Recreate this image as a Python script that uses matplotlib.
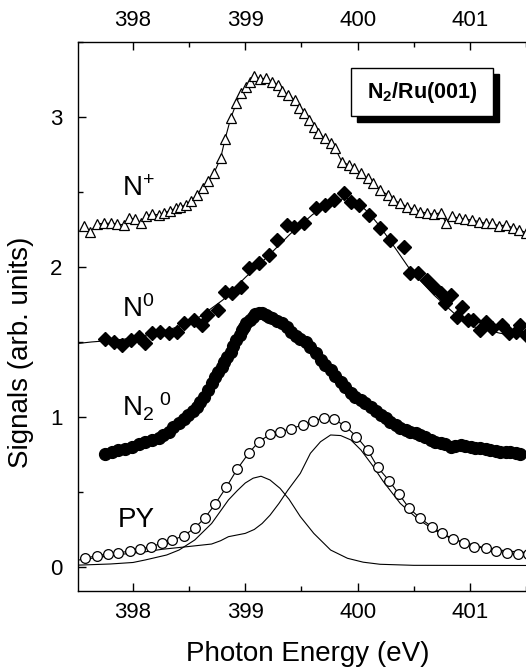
import matplotlib.pyplot as plt
from matplotlib.patches import Rectangle
from matplotlib.ticker import MultipleLocator
from matplotlib.transforms import offset_copy

plt.rcParams['font.family'] = ['Liberation Sans', 'DejaVu Sans']
plt.rcParams['mathtext.fontset'] = 'custom'
plt.rcParams['mathtext.rm'] = 'Liberation Sans'
plt.rcParams['mathtext.it'] = 'Liberation Sans:italic'
plt.rcParams['mathtext.bf'] = 'Liberation Sans:bold'

# N+ signal (open triangles)
nplus_x = [397.56, 397.62, 397.68, 397.74, 397.80, 397.86, 397.92, 397.96, 398.02, 398.07,
           398.12, 398.17, 398.23, 398.28, 398.33, 398.38, 398.42, 398.47, 398.52, 398.57,
           398.62, 398.67, 398.72, 398.78, 398.82, 398.87, 398.92, 398.96, 399.01, 399.04,
           399.08, 399.13, 399.18, 399.24, 399.29, 399.33, 399.38, 399.44, 399.48, 399.52,
           399.57, 399.61, 399.65, 399.71, 399.76, 399.80, 399.86, 399.92, 399.97, 400.03,
           400.09, 400.14, 400.20, 400.27, 400.32, 400.38, 400.44, 400.50, 400.56, 400.62,
           400.68, 400.74, 400.79, 400.84, 400.90, 400.96, 401.02, 401.08, 401.14, 401.20,
           401.26, 401.32, 401.38, 401.44, 401.50]
nplus_y = [2.276, 2.236, 2.287, 2.291, 2.291, 2.287, 2.280, 2.324, 2.320, 2.296,
           2.340, 2.353, 2.347, 2.362, 2.376, 2.391, 2.402, 2.413, 2.442, 2.480,
           2.524, 2.576, 2.624, 2.724, 2.853, 2.991, 3.091, 3.162, 3.202, 3.236,
           3.273, 3.253, 3.258, 3.236, 3.213, 3.176, 3.147, 3.113, 3.058, 3.024,
           2.980, 2.935, 2.891, 2.858, 2.824, 2.791, 2.702, 2.680, 2.658, 2.624,
           2.591, 2.558, 2.513, 2.480, 2.447, 2.424, 2.402, 2.384, 2.369, 2.358,
           2.351, 2.362, 2.291, 2.340, 2.324, 2.318, 2.313, 2.302, 2.291, 2.291,
           2.273, 2.280, 2.262, 2.247, 2.229]

# N0 signal (filled diamonds)
n0_x = [397.75, 397.83, 397.90, 397.98, 398.05, 398.11, 398.17, 398.24, 398.32, 398.39,
        398.45, 398.54, 398.61, 398.66, 398.76, 398.82, 398.88, 398.96, 399.03, 399.12,
        399.21, 399.28, 399.37, 399.43, 399.52, 399.63, 399.71, 399.79, 399.88, 399.94,
        400.01, 400.10, 400.20, 400.29, 400.41, 400.47, 400.54, 400.62, 400.68, 400.74,
        400.78, 400.83, 400.89, 400.93, 400.98, 401.03, 401.09, 401.14, 401.20, 401.29,
        401.35, 401.41, 401.45, 401.50]
n0_y = [1.518, 1.502, 1.480, 1.513, 1.535, 1.496, 1.558, 1.569, 1.558, 1.569,
        1.624, 1.647, 1.613, 1.680, 1.713, 1.835, 1.824, 1.869, 1.991, 2.024,
        2.080, 2.180, 2.280, 2.269, 2.291, 2.391, 2.413, 2.447, 2.491, 2.435,
        2.413, 2.347, 2.258, 2.180, 2.135, 1.958, 1.958, 1.913, 1.869, 1.824,
        1.758, 1.813, 1.669, 1.735, 1.647, 1.647, 1.580, 1.636, 1.591, 1.613,
        1.558, 1.569, 1.613, 1.547]
n0_fit_x = [397.51, 397.63, 397.80, 398.00, 398.20, 398.40, 398.60, 398.80, 399.00, 399.20,
            399.40, 399.60, 399.80, 399.90, 400.00, 400.10, 400.20, 400.35, 400.47, 400.68,
            400.86, 401.03, 401.27, 401.50]
n0_fit_y = [1.490, 1.500, 1.510, 1.525, 1.560, 1.600, 1.670, 1.780, 1.930, 2.070,
            2.220, 2.350, 2.440, 2.460, 2.430, 2.360, 2.270, 2.110, 1.980, 1.813,
            1.691, 1.602, 1.558, 1.535]

# N2^0 signal (filled circles)
n2_x = [397.75, 397.81, 397.87, 397.93, 397.99, 398.05, 398.11, 398.17, 398.23, 398.27,
        398.32, 398.36, 398.41, 398.45, 398.49, 398.53, 398.57, 398.60, 398.63, 398.67,
        398.70, 398.73, 398.76, 398.79, 398.81, 398.84, 398.87, 398.89, 398.92, 398.95,
        398.97, 398.99, 399.01, 399.04, 399.07, 399.09, 399.12, 399.15, 399.18, 399.21,
        399.24, 399.28, 399.33, 399.37, 399.41, 399.45, 399.49, 399.54, 399.58, 399.63,
        399.67, 399.71, 399.76, 399.80, 399.85, 399.89, 399.94, 399.98, 400.03, 400.07,
        400.12, 400.16, 400.21, 400.25, 400.29, 400.34, 400.38, 400.43, 400.47, 400.52,
        400.56, 400.60, 400.65, 400.69, 400.74, 400.78, 400.83, 400.87, 400.92, 400.96,
        401.01, 401.05, 401.09, 401.14, 401.18, 401.23, 401.27, 401.32, 401.36, 401.41,
        401.45]
n2_y = [0.753, 0.769, 0.780, 0.787, 0.802, 0.818, 0.835, 0.847, 0.858, 0.880,
        0.902, 0.931, 0.958, 0.984, 1.013, 1.042, 1.069, 1.102, 1.135, 1.180,
        1.224, 1.264, 1.302, 1.336, 1.369, 1.402, 1.435, 1.473, 1.513, 1.547,
        1.580, 1.602, 1.624, 1.647, 1.669, 1.687, 1.696, 1.691, 1.680, 1.669,
        1.658, 1.642, 1.624, 1.598, 1.569, 1.540, 1.518, 1.502, 1.469, 1.424,
        1.380, 1.347, 1.313, 1.273, 1.235, 1.198, 1.158, 1.136, 1.113, 1.091,
        1.069, 1.042, 1.013, 0.991, 0.969, 0.947, 0.924, 0.913, 0.902, 0.891,
        0.880, 0.864, 0.847, 0.835, 0.829, 0.820, 0.802, 0.807, 0.813, 0.807,
        0.802, 0.796, 0.791, 0.785, 0.780, 0.776, 0.769, 0.769, 0.769, 0.762,
        0.753]

# partial yield (open circles)
py_x = [397.57, 397.68, 397.78, 397.87, 397.97, 398.06, 398.16, 398.26, 398.35, 398.45,
        398.55, 398.64, 398.73, 398.83, 398.93, 399.03, 399.12, 399.22, 399.31, 399.41,
        399.51, 399.60, 399.70, 399.79, 399.89, 399.99, 400.09, 400.18, 400.28, 400.37,
        400.46, 400.56, 400.66, 400.75, 400.85, 400.95, 401.04, 401.14, 401.23, 401.33,
        401.43, 401.52]
py_y = [0.058, 0.076, 0.087, 0.096, 0.104, 0.118, 0.136, 0.158, 0.180, 0.207,
        0.260, 0.327, 0.418, 0.531, 0.655, 0.758, 0.835, 0.884, 0.902, 0.922,
        0.947, 0.971, 0.996, 0.984, 0.940, 0.869, 0.780, 0.664, 0.576, 0.484,
        0.391, 0.324, 0.269, 0.224, 0.189, 0.158, 0.136, 0.124, 0.107, 0.096,
        0.087, 0.085]

# two components under PY
comp1_x = [397.50, 397.80, 398.00, 398.11, 398.30, 398.41, 398.55, 398.70, 398.85, 398.93,
           399.00, 399.07, 399.14, 399.22, 399.31, 399.39, 399.49, 399.61, 399.76, 399.91,
           400.05, 400.20, 400.50, 401.50]
comp1_y = [0.012, 0.020, 0.030, 0.047, 0.080, 0.113, 0.180, 0.290, 0.447, 0.510,
           0.560, 0.592, 0.605, 0.580, 0.524, 0.451, 0.336, 0.224, 0.113, 0.058,
           0.032, 0.018, 0.011, 0.010]
comp2_x = [397.50, 397.70, 397.90, 398.10, 398.26, 398.49, 398.70, 398.78, 398.85, 399.00,
           399.08, 399.15, 399.22, 399.30, 399.38, 399.49, 399.58, 399.67, 399.76, 399.85,
           399.94, 400.03, 400.13, 400.23, 400.38, 400.53, 400.68, 400.83, 400.98, 401.15,
           401.33, 401.50]
comp2_y = [0.045, 0.065, 0.085, 0.100, 0.118, 0.136, 0.153, 0.175, 0.202, 0.224,
           0.250, 0.290, 0.345, 0.424, 0.513, 0.624, 0.758, 0.835, 0.880, 0.876,
           0.847, 0.780, 0.680, 0.569, 0.424, 0.324, 0.247, 0.191, 0.158, 0.124,
           0.107, 0.096]

fig = plt.figure(figsize=(5.26, 6.68), dpi=100)
ax = fig.add_axes([0.1483, 0.1153, 0.873, 0.8219])

lw = 0.8
ax.plot(nplus_x, nplus_y, color='black', lw=lw)
ax.plot(nplus_x, nplus_y, ls='none', marker='^', ms=7, mfc='white', mec='black', mew=0.9)

ax.plot(n0_fit_x, n0_fit_y, color='black', lw=lw)
ax.plot(n0_x, n0_y, ls='none', marker='D', ms=7.5, color='black')

ax.plot(n2_x, n2_y, color='black', lw=lw)
ax.plot(n2_x, n2_y, ls='none', marker='o', ms=8.5, color='black')

ax.plot(comp1_x, comp1_y, color='black', lw=lw)
ax.plot(comp2_x, comp2_y, color='black', lw=lw)
ax.plot(py_x, py_y, color='black', lw=lw)
ax.plot(py_x, py_y, ls='none', marker='o', ms=7, mfc='white', mec='black', mew=0.9)

ax.set_xlim(397.51, 401.6)
ax.set_ylim(-0.16, 3.5)

ax.xaxis.set_major_locator(MultipleLocator(1))
ax.xaxis.set_minor_locator(MultipleLocator(0.5))
ax.yaxis.set_major_locator(MultipleLocator(1))
ax.yaxis.set_minor_locator(MultipleLocator(0.5))
ax.tick_params(which='both', direction='in', top=True, labeltop=True, right=False,
               width=1.0, labelsize=16, colors='black')
ax.tick_params(which='major', length=6)
ax.tick_params(which='minor', length=3.5)
ax.tick_params(axis='x', pad=8)
ax.tick_params(axis='y', pad=11)
for s in ax.spines.values():
    s.set_linewidth(1.0)

ax.set_xlabel('Photon Energy (eV)', fontsize=20, labelpad=13)
ax.set_ylabel('Signals (arb. units)', fontsize=20)
ax.yaxis.set_label_coords(-0.095, 0.434)

# curve labels
lab = dict(fontsize=20, ha='left', va='baseline')
ax.text(397.90, 2.47, r'N$^\mathregular{+}$', **lab)
ax.text(397.90, 1.667, r'N$^\mathregular{0}$', **lab)
ax.text(397.90, 1.0, r'N$_\mathregular{2}{}^{\mathregular{\ 0}}$', **lab)
ax.text(397.86, 0.267, 'PY', **lab)

# boxed title with drop shadow
shadow_tr = offset_copy(ax.transData, fig=fig, x=6, y=-6, units='dots')
ax.add_patch(Rectangle((399.943, 3.007), 1.265, 0.318, transform=shadow_tr,
                       facecolor='black', edgecolor='black', zorder=5))
ax.add_patch(Rectangle((399.943, 3.007), 1.265, 0.318, facecolor='white',
                       edgecolor='black', lw=1.0, zorder=6))
ax.text(400.575, 3.166, r'$\mathbf{N_2/Ru(001)}$', fontsize=15.5, ha='center',
        va='center', zorder=7)

fig.savefig('out.png', dpi=100)
